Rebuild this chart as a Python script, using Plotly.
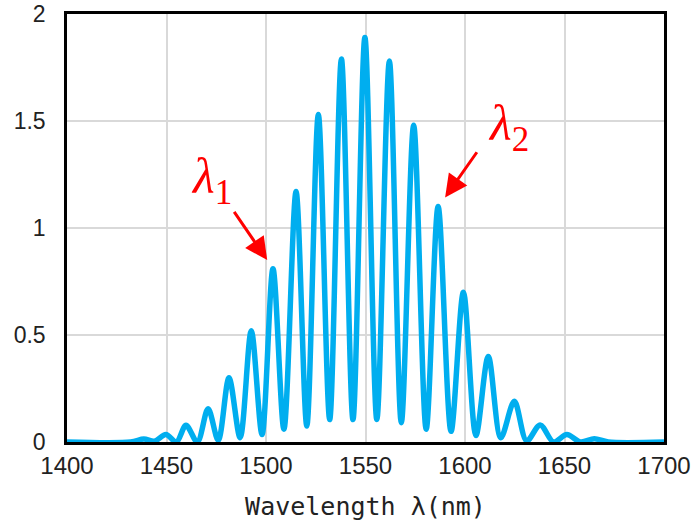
import plotly.graph_objects as go

# Spectrum: alternating peaks and valleys (nm, a.u.)
wavelength = [1400, 1432, 1438.6, 1444, 1449.7, 1455, 1459.8, 1465.5, 1470.9, 1476,
              1481.4, 1487, 1492.6, 1498, 1503.5, 1509, 1515.1, 1520.5, 1526.3, 1532,
              1537.9, 1543.7, 1549.7, 1555.7, 1562, 1568, 1574.2, 1580.5, 1586.5, 1593,
              1599.2, 1605.5, 1611.7, 1618, 1624.8, 1631, 1637.8, 1644.5, 1651.2, 1658,
              1665, 1672, 1700]
intensity = [0.0, 0.0, 0.014, 0.004, 0.035, 0.0, 0.078, 0.0, 0.155, 0.008,
             0.30, 0.02, 0.52, 0.035, 0.81, 0.06, 1.17, 0.075, 1.53, 0.105,
             1.79, 0.105, 1.89, 0.105, 1.78, 0.09, 1.48, 0.06, 1.10, 0.05,
             0.70, 0.03, 0.40, 0.02, 0.19, 0.005, 0.08, 0.0, 0.035, 0.0,
             0.015, 0.0, 0.0]

x_ticks = [1400, 1450, 1500, 1550, 1600, 1650, 1700]
y_ticks = [0, 0.5, 1, 1.5, 2]
y_tick_text = ["0", "0.5", "1", "1.5", "2"]

# labels: (text, text x, text y, arrow tail x, tail y, arrow tip x, tip y)
labels = [
    ("<i>λ</i><sub>1</sub>", 1472.6, 1.225, 1483.5, 1.082, 1500.6, 0.850),
    ("<i>λ</i><sub>2</sub>", 1621.9, 1.47, 1606.5, 1.361, 1590.0, 1.143),
]

fig = go.Figure()
fig.add_trace(go.Scatter(
    x=wavelength, y=intensity, mode="lines",
    line=dict(color="#00AEEF", width=5.5, shape="spline", smoothing=0.9),
    hoverinfo="skip", showlegend=False,
))

annotations = []
for text, tx, ty, ax, ay, hx, hy in labels:
    annotations.append(dict(
        x=tx, y=ty, xref="x", yref="y", text=text, showarrow=False,
        font=dict(family="Liberation Serif", size=50, color="#FF0000"),
    ))
    annotations.append(dict(
        x=hx, y=hy, xref="x", yref="y", ax=ax, ay=ay, axref="x", ayref="y",
        text="", showarrow=True, arrowhead=2, arrowsize=1.5, arrowwidth=3,
        arrowcolor="#FF0000", standoff=0,
    ))

fig.update_layout(
    width=692, height=532,
    margin=dict(l=67, r=28, t=14, b=90),
    paper_bgcolor="white", plot_bgcolor="white",
    annotations=annotations,
    xaxis=dict(
        range=[1400, 1700], tickvals=x_ticks, ticks="", automargin=False,
        ticklabeloverflow="allow",
        showgrid=True, gridcolor="#D9D9D9", gridwidth=2,
        showline=True, linecolor="black", linewidth=2.5, mirror=True,
        zeroline=False,
        tickfont=dict(family="Liberation Sans", size=24, color="#222"),
        title=dict(text="Wavelength λ(nm)", standoff=20,
                   font=dict(family="DejaVu Sans Mono", size=25, color="#222")),
    ),
    yaxis=dict(
        range=[0, 2], tickvals=y_ticks, ticktext=y_tick_text, ticks="",
        automargin=False, ticklabeloverflow="allow",
        showgrid=True, gridcolor="#D9D9D9", gridwidth=2,
        showline=True, linecolor="black", linewidth=2.5, mirror=True,
        zeroline=False, ticklabelstandoff=14,
        tickfont=dict(family="Liberation Sans", size=23, color="#222"),
    ),
)

fig.write_html("out.html")
